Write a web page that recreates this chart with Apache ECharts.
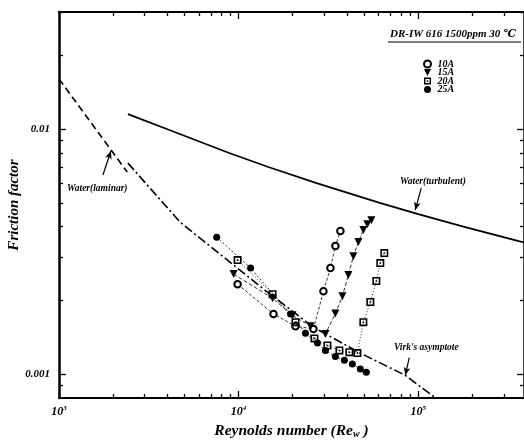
<!DOCTYPE html>
<html>
<head>
<meta charset="utf-8">
<script src="https://cdn.jsdelivr.net/npm/echarts@6/dist/echarts.min.js"></script>
<style>
  html, body { margin: 0; padding: 0; background: #fff; }
  #chart { width: 524px; height: 442px; }
</style>
</head>
<body>
<div id="chart"></div>
<script>
// friction factor vs wall Reynolds number
const re10A = [9870, 15640, 20730, 26100, 29660, 32440, 34580, 36870];
const f10A = [0.00233, 0.00176, 0.00157, 0.00153, 0.00218, 0.00271, 0.00333, 0.00384];

const re15A = [9380, 15450, 19950, 25120, 30430, 34580, 37830, 40850, 43550, 46420, 49490, 52080, 54830];
const f15A = [0.00256, 0.00204, 0.00174, 0.00157, 0.00146, 0.00177, 0.00208, 0.00254, 0.00303, 0.00346, 0.00387, 0.00409, 0.00425];

const re20A = [9870, 15450, 20730, 26440, 31220, 36400, 41370, 45830, 49490, 54120, 58460, 61500, 64730];
const f20A = [0.00292, 0.00212, 0.00163, 0.00140, 0.00131, 0.00125, 0.00123, 0.00122, 0.00163, 0.00197, 0.00240, 0.00284, 0.00312];

const re25A = [7550, 11660, 19450, 23560, 27480, 30430, 34580, 38800, 42990, 47620, 51410];
const f25A = [0.00362, 0.00271, 0.00176, 0.00147, 0.00134, 0.00125, 0.00118, 0.00114, 0.00110, 0.00105, 0.00102];

// reference curves
const reLaminar = [1000, 2400];
const fLaminar = [0.016, 0.00667];
const reTurbulent = [2420, 3980, 8780, 14630, 27450, 61050, 100000, 178500, 358000, 418600];
const fTurbulent = [0.0115, 0.0100, 0.0080, 0.0070, 0.0060, 0.0050, 0.0045, 0.0040, 0.0035, 0.0034];
const reVirk = [2420, 4720, 14030, 25940, 47420, 84500, 125000];
const fVirk = [0.00726, 0.00417, 0.00220, 0.00156, 0.00122, 0.000991, 0.0008];

// annotation arrows [from, to]
const laminarArrow = [[1756, 0.00649], [1945, 0.00813]];
const turbulentArrow = [[103900, 0.00574], [96230, 0.00467]];
const virkArrow = [[89130, 0.00117], [84700, 0.00099]];

// axes
const xMin = 1000, xMax = 388000;
const yMin = 0.0008, yMax = 0.03;
const xMajor = [1000, 10000, 100000];
const xMinor = [2000, 3000, 4000, 5000, 6000, 7000, 8000, 9000,
  20000, 30000, 40000, 50000, 60000, 70000, 80000, 90000, 200000, 300000];
const yMajor = [0.001, 0.01];
const yMinor = [0.0009, 0.002, 0.003, 0.004, 0.005, 0.006, 0.007, 0.008, 0.009, 0.02, 0.03];

const zip = (a, b) => a.map((v, i) => [v, b[i]]);
const serif = '"Liberation Serif", "DejaVu Serif", serif';
const bi = { fontFamily: serif, fontStyle: 'italic', fontWeight: 'bold', color: '#000' };

const chart = echarts.init(document.getElementById('chart'));

function xAxisOf(pos, major) {
  return {
    type: 'log', logBase: 10, min: xMin, max: xMax, position: pos,
    axisLine: { show: major, onZero: false, lineStyle: { color: '#000', width: 2 } },
    axisTick: { inside: true, length: major ? 7 : 4, customValues: major ? xMajor : xMinor,
      lineStyle: { color: '#000', width: 1.3 } },
    axisLabel: { show: major && pos === 'bottom', customValues: xMajor, margin: 7,
      formatter: v => '{n|10}{e|' + Math.round(Math.log10(v)) + '}',
      rich: {
        n: Object.assign({ fontSize: 12 }, bi),
        e: Object.assign({ fontSize: 7, padding: [0, 0, 7, 0] }, bi)
      } },
    splitLine: { show: false }
  };
}

function yAxisOf(pos, major) {
  return {
    type: 'log', logBase: 10, min: yMin, max: yMax, position: pos,
    axisLine: { show: major, onZero: false, lineStyle: { color: '#000', width: 2.5 } },
    axisTick: { inside: true, length: major ? 7 : 4, customValues: major ? yMajor : yMinor,
      lineStyle: { color: '#000', width: 1.3 } },
    axisLabel: { show: major && pos === 'left', customValues: yMajor, margin: 9,
      formatter: v => String(v), fontSize: 11, fontFamily: serif, fontStyle: 'italic',
      fontWeight: 'bold', color: '#000' },
    splitLine: { show: false }
  };
}

const xAxes = [xAxisOf('bottom', true), xAxisOf('bottom', false), xAxisOf('top', true), xAxisOf('top', false)];
Object.assign(xAxes[0], {
  name: 'Reynolds number (Re{w|w} )', nameLocation: 'middle', nameGap: 24,
  nameTextStyle: Object.assign({ fontSize: 15.5, rich: {
    w: Object.assign({ fontSize: 10, padding: [7, 0, 0, 0] }, bi)
  } }, bi)
});
const yAxes = [yAxisOf('left', true), yAxisOf('left', false), yAxisOf('right', true), yAxisOf('right', false)];
Object.assign(yAxes[0], {
  name: 'Friction factor', nameLocation: 'middle', nameGap: 37, nameMoveOverlap: false,
  nameTextStyle: Object.assign({ fontSize: 15 }, bi)
});

function dataSeries(name, re, f, symbol, size, border, dash) {
  return {
    name, type: 'line', data: zip(re, f), symbol, symbolSize: size,
    itemStyle: { color: '#000', borderColor: '#000', borderWidth: border },
    lineStyle: { color: '#000', width: 0.8, type: dash },
    z: 3
  };
}

const triDown = 'path://M0,0L10,0L5,10Z';
const dotSquare = 'path://M0,0L10,0L10,10L0,10Z M2,2L2,8L8,8L8,2Z M4,4L6,4L6,6L4,6Z';

chart.setOption({
  animation: false,
  backgroundColor: '#fff',
  grid: { left: 59, right: 0, top: 12, bottom: 44, outerBoundsMode: 'none', containLabel: false },
  xAxis: xAxes,
  yAxis: yAxes,
  legend: {
    orient: 'vertical', left: 423, top: 59, padding: 0, itemGap: -1.5, itemWidth: 10, itemHeight: 7,
    textStyle: Object.assign({ fontSize: 10 }, bi),
    data: [
      { name: '10A', icon: 'emptyCircle' },
      { name: '15A', icon: triDown },
      { name: '20A', icon: dotSquare },
      { name: '25A', icon: 'circle' }
    ]
  },
  graphic: [
    { type: 'text', left: 390, top: 29, style: Object.assign({ text: 'DR-IW 616 1500ppm 30 ℃', fontSize: 11, fill: '#000' }, bi) },
    { type: 'line', shape: { x1: 388, y1: 42, x2: 521, y2: 42 }, style: { stroke: '#000', lineWidth: 1 } },
    { type: 'text', left: 67, top: 184, style: Object.assign({ text: 'Water(laminar)', fontSize: 9.5, fill: '#000' }, bi) },
    { type: 'text', left: 400, top: 177, style: Object.assign({ text: 'Water(turbulent)', fontSize: 9.5, fill: '#000' }, bi) },
    { type: 'text', left: 394, top: 343, style: Object.assign({ text: "Virk's asymptote", fontSize: 9.5, fill: '#000' }, bi) }
  ],
  series: [
    {
      name: 'laminar', type: 'line', data: zip(reLaminar, fLaminar), symbol: 'none',
      lineStyle: { color: '#000', width: 1.6, type: [7, 4] },
      markLine: {
        silent: true, symbol: ['none', 'arrow'], symbolSize: [5, 8],
        lineStyle: { color: '#000', type: 'solid', width: 1.2 },
        label: { show: false },
        data: [laminarArrow, turbulentArrow, virkArrow].map(a => [{ coord: a[0] }, { coord: a[1] }])
      }
    },
    {
      name: 'turbulent', type: 'line', data: zip(reTurbulent, fTurbulent), symbol: 'none',
      lineStyle: { color: '#000', width: 1.8, type: 'solid' }
    },
    {
      name: 'virk', type: 'line', data: zip(reVirk, fVirk), symbol: 'none',
      lineStyle: { color: '#000', width: 1.6, type: [9, 3, 2, 3] }
    },
    dataSeries('10A', re10A, f10A, 'emptyCircle', 6.5, 1.4, [3, 2]),
    dataSeries('15A', re15A, f15A, triDown, 8, 0, [4, 2]),
    dataSeries('20A', re20A, f20A, dotSquare, 8, 0, [1, 2]),
    dataSeries('25A', re25A, f25A, 'circle', 7, 0, [2, 2])
  ]
});
</script>
</body>
</html>
